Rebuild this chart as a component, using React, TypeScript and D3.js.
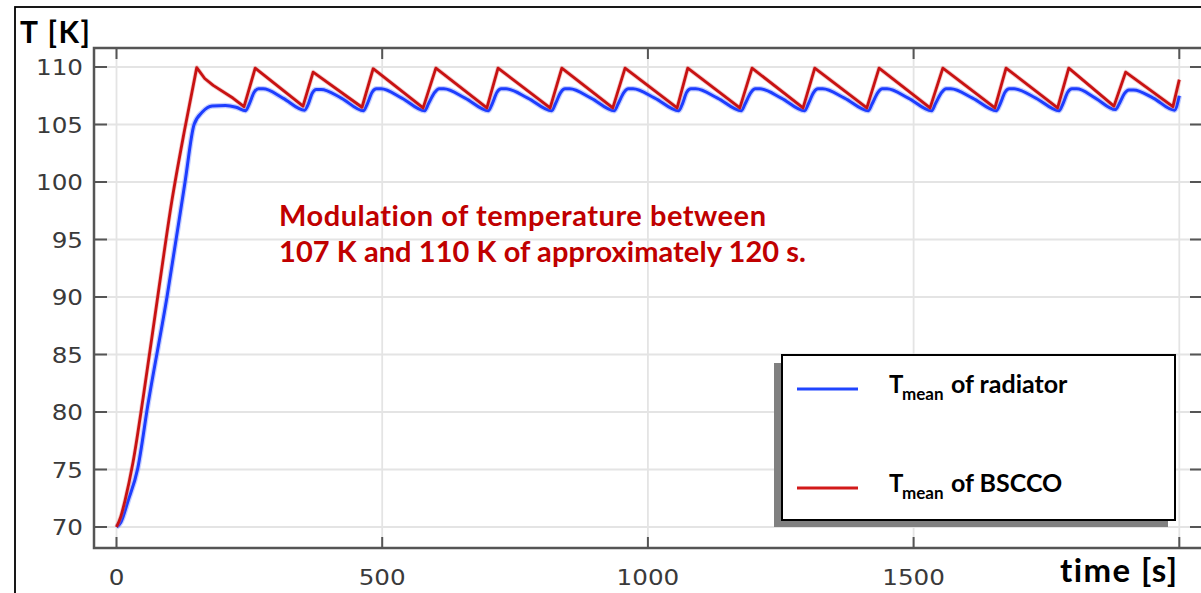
import React from "react";
import * as d3 from "d3";

// ---- data ----
const xTickVals = [0, 500, 1000, 1500, 2000];
const xTickLabels = ["0", "500", "1000", "1500"];
const yTickVals = [70, 75, 80, 85, 90, 95, 100, 105, 110];

// BSCCO mean temperature [time s, T K]: warm-up ramp, then the saw-tooth
const bsccoRamp: [number, number][] = [
  [0, 70], [8, 70.9], [16, 72.3], [31, 75.6], [50, 81.2], [80, 90.8], [104, 98.3], [128, 104.5], [151, 109.95],
];
const bsccoCycles: [number, number][] = [
  [151, 109.95], [166, 109.0], [182, 108.4], [219, 107.3], [240, 106.55],
  [261, 109.9], [351, 106.6],
  [370, 109.55], [462, 106.5],
  [483, 109.85], [577, 106.45],
  [601, 109.9], [697, 106.45],
  [718, 109.9], [816, 106.45],
  [838, 109.9], [934, 106.45],
  [957, 109.9], [1055, 106.45],
  [1075, 109.9], [1173, 106.45],
  [1196, 109.9], [1292, 106.45],
  [1314, 109.9], [1412, 106.45],
  [1435, 109.9], [1531, 106.45],
  [1555, 109.9], [1653, 106.45],
  [1674, 109.9], [1771, 106.45],
  [1792, 109.9], [1877, 106.6],
  [1899, 109.55], [1988, 106.55],
  [2000, 108.9],
];

// Radiator mean temperature [time s, T K]
const radiator: [number, number][] = [
  [0, 70], [8, 70.4], [22, 72.3], [40, 75.1], [59, 80.6], [95, 90], [129, 100], [146, 105], [162, 106.1], [180, 106.6], [205, 106.65], [225, 106.5], [243, 106.2],
  [250, 106.8], [259, 107.8], [267, 108.1], [276, 108.1], [313, 107.3], [354, 106.25],
  [361, 106.8], [368, 107.7], [376, 108.05], [385, 108.05], [423, 107.3], [465, 106.2],
  [472, 106.8], [481, 107.8], [489, 108.1], [498, 108.1], [537, 107.3], [580, 106.2],
  [587, 106.8], [599, 107.8], [607, 108.1], [616, 108.1], [656, 107.3], [700, 106.2],
  [707, 106.8], [716, 107.8], [724, 108.1], [733, 108.1], [774, 107.3], [819, 106.2],
  [826, 106.8], [836, 107.8], [844, 108.1], [853, 108.1], [893, 107.3], [937, 106.2],
  [944, 106.8], [955, 107.8], [963, 108.1], [972, 108.1], [1013, 107.3], [1058, 106.2],
  [1065, 106.8], [1073, 107.8], [1081, 108.1], [1090, 108.1], [1131, 107.3], [1176, 106.2],
  [1183, 106.8], [1194, 107.8], [1202, 108.1], [1211, 108.1], [1251, 107.3], [1295, 106.2],
  [1302, 106.8], [1312, 107.8], [1320, 108.1], [1329, 108.1], [1370, 107.3], [1415, 106.2],
  [1422, 106.8], [1433, 107.8], [1441, 108.1], [1450, 108.1], [1490, 107.3], [1534, 106.2],
  [1541, 106.8], [1553, 107.8], [1561, 108.1], [1570, 108.1], [1611, 107.3], [1656, 106.2],
  [1663, 106.8], [1672, 107.8], [1680, 108.1], [1689, 108.1], [1730, 107.3], [1774, 106.2],
  [1781, 106.8], [1790, 107.8], [1798, 108.1], [1807, 108.1], [1842, 107.3], [1880, 106.3],
  [1887, 106.8], [1897, 107.7], [1905, 108.0], [1914, 108.0], [1951, 107.3], [1991, 106.25],
  [2000, 107.5],
];

const annotationLines = ["Modulation of temperature between", "107 K and 110 K of approximately 120 s."];
const legendNames = ["of radiator", "of BSCCO"];

export default function App() {
  const W = 1201, H = 593;
  const frameL = 94, frameT = 48, frameB = 548, frameR = 1203;
  const x = d3.scaleLinear().domain([0, 2000]).range([116.5, 1179.3]);
  const y = d3.scaleLinear().domain([70, 110]).range([527, 67]);

  const lineSmooth = d3.line<[number, number]>().x(d => x(d[0])).y(d => y(d[1])).curve(d3.curveMonotoneX);
  const lineLinear = d3.line<[number, number]>().x(d => x(d[0])).y(d => y(d[1])).curve(d3.curveLinear);
  const redD = (lineSmooth(bsccoRamp) || "") + (lineLinear(bsccoCycles) || "").replace(/^M/, "L");
  const blueD = lineSmooth(radiator) || "";

  const axisColor = "#555";
  const gridColor = "#e4e4e4";
  const tickFont = "'DejaVu Sans', Verdana, sans-serif";
  const boldFont = "Lato, 'Open Sans', sans-serif";
  const noLig: React.CSSProperties = { fontVariantLigatures: "none", fontFeatureSettings: "'liga' 0" };

  return (
    <svg width={W} height={H} style={{ position: "absolute", left: 0, top: 0, display: "block", background: "#fff" }}>
      <rect x={0} y={0} width={W} height={H} fill="#fff" />
      {/* outer black frame */}
      <rect x={15} y={7} width={1300} height={700} fill="none" stroke="#000" strokeWidth={1.8} />

      {/* grid */}
      {yTickVals.map(v => (
        <line key={"gy" + v} x1={frameL} x2={frameR} y1={y(v)} y2={y(v)} stroke={gridColor} strokeWidth={1.8} />
      ))}
      {xTickVals.map(v => (
        <line key={"gx" + v} x1={x(v)} x2={x(v)} y1={frameT} y2={frameB} stroke={gridColor} strokeWidth={1.8} />
      ))}

      {/* plot frame */}
      <rect x={frameL} y={frameT} width={frameR - frameL} height={frameB - frameT} fill="none" stroke={axisColor} strokeWidth={2.5} />

      {/* ticks */}
      {yTickVals.map(v => (
        <g key={"ty" + v}>
          <line x1={frameL} x2={frameL + 13} y1={y(v)} y2={y(v)} stroke={axisColor} strokeWidth={2} />
          <line x1={1190} x2={frameR} y1={y(v)} y2={y(v)} stroke={axisColor} strokeWidth={2} />
        </g>
      ))}
      {xTickVals.map(v => (
        <g key={"tx" + v}>
          <line x1={x(v)} x2={x(v)} y1={frameT} y2={frameT + 11} stroke={axisColor} strokeWidth={2} />
          <line x1={x(v)} x2={x(v)} y1={frameB} y2={frameB - 11} stroke={axisColor} strokeWidth={2} />
        </g>
      ))}

      {/* tick labels */}
      {yTickVals.map(v => (
        <text key={"ly" + v} transform={`translate(83,${y(v) + 8}) scale(1.12,1)`} textAnchor="end"
          fontFamily={tickFont} fontSize={22} fill="#3a3a3a">{v}</text>
      ))}
      {xTickLabels.map((l, i) => (
        <text key={"lx" + l} transform={`translate(${x(xTickVals[i])},585) scale(1.12,1)`} textAnchor="middle"
          fontFamily={tickFont} fontSize={22} fill="#3a3a3a">{l}</text>
      ))}

      {/* series */}
      <path d={blueD} fill="none" stroke="#7f95ff" strokeWidth={5.5} strokeOpacity={0.45} strokeLinejoin="round" />
      <path d={blueD} fill="none" stroke="#1d3dff" strokeWidth={3} strokeLinejoin="round" />
      <path d={redD} fill="none" stroke="#e07070" strokeWidth={4.5} strokeOpacity={0.35} strokeLinejoin="round" />
      <path d={redD} fill="none" stroke="#c81212" strokeWidth={2.8} strokeLinejoin="round" />

      {/* axis titles */}
      <text x={20} y={43} fontFamily={boldFont} fontWeight={700} fontSize={30} fill="#000" textLength={70} style={noLig}>T [K]</text>
      <text x={1060} y={582} fontFamily={boldFont} fontWeight={700} fontSize={33} fill="#000" textLength={117} style={noLig}>time [s]</text>

      {/* annotation */}
      <text x={279} y={226} fontFamily={boldFont} fontWeight={700} fontSize={29} fill="#c00000" textLength={487} style={noLig}>{annotationLines[0]}</text>
      <text x={279} y={262} fontFamily={boldFont} fontWeight={700} fontSize={29} fill="#c00000" textLength={527} style={noLig}>{annotationLines[1]}</text>

      {/* legend */}
      <rect x={774} y={363} width={394} height={164} fill="#808080" />
      <rect x={782} y={355} width={393} height={165} fill="#fff" stroke="#000" strokeWidth={2} />
      <line x1={797} x2={858} y1={389} y2={389} stroke="#2045ff" strokeWidth={3} />
      <line x1={797} x2={858} y1={488} y2={488} stroke="#d21a1a" strokeWidth={3} />
      {legendNames.map((n, i) => {
        const by = i === 0 ? 393 : 492;
        return (
          <g key={n} fontFamily={boldFont} fontWeight={700} fill="#000" style={noLig}>
            <text x={889} y={by} fontSize={24}>T</text>
            <text x={902} y={by + 7} fontSize={17}>mean</text>
            <text x={951} y={by} fontSize={25}>{n}</text>
          </g>
        );
      })}
    </svg>
  );
}
